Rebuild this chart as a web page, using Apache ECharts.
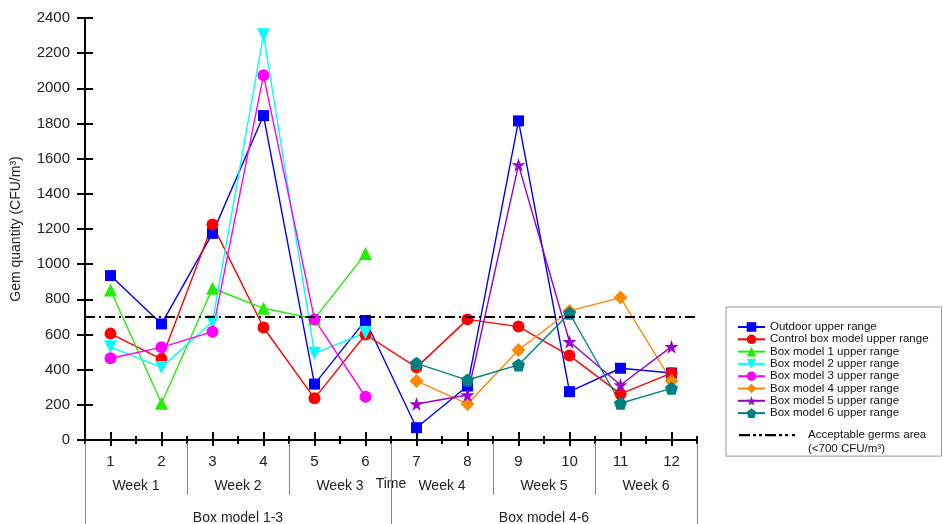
<!DOCTYPE html>
<html>
<head>
<meta charset="utf-8">
<script src="https://cdn.jsdelivr.net/npm/echarts@6/dist/echarts.min.js"></script>
<style>
html,body{margin:0;padding:0;background:#fff;}
#chart{width:943px;height:524px;}
</style>
</head>
<body>
<div id="chart"></div>
<script>
// ---- data ----
const categories = ['1','2','3','4','5','6','7','8','9','10','11','12'];
const weeks = ['Week 1','Week 2','Week 3','Week 4','Week 5','Week 6'];
const groups = ['Box model 1-3','Box model 4-6'];
const yMin = 0, yMax = 2400, yStep = 200;
const threshold = 700;

const outdoor = [935, 660, 1175, 1845, 318, 680, 70, 307, 1815, 275, 408, 381];
const control = [605, 460, 1225, 640, 237, 600, 413, 686, 645, 480, 262, 380];
const box1 = [853, 209, 863, 749, 690, 1060, null, null, null, null, null, null];
const box2 = [530, 413, 673, 2305, 493, 610, null, null, null, null, null, null];
const box3 = [465, 527, 616, 2075, 686, 246, null, null, null, null, null, null];
const box4 = [null, null, null, null, null, null, 336, 205, 512, 734, 810, 337];
const box5 = [null, null, null, null, null, null, 205, 256, 1565, 559, 313, 531];
const box6 = [null, null, null, null, null, null, 436, 341, 427, 721, 209, 294];

const seriesNames = ['Outdoor upper range','Control box model upper range','Box model 1 upper range',
  'Box model 2 upper range','Box model 3 upper range','Box model 4 upper range',
  'Box model 5 upper range','Box model 6 upper range'];
const thresholdName = 'Acceptable germs area';

// ---- styles ----
const STAR = 'path://M50,0 L61,35 L98,35 L68,57 L79,91 L50,70 L21,91 L32,57 L2,35 L39,35 Z';
const PENT = 'path://M50,0 L100,38 L81,100 L19,100 L0,38 Z';
// dash-dot legend icon (bounding box 0..56 x 0..10)
const DASHDOT_ICON = 'path://M0,0 L0,0 Z M56,10 L56,10 Z ' +
  'M0,4 L11,4 L11,6.2 L0,6.2 Z M14,4 L17,4 L17,6.2 L14,6.2 Z M20,4 L23,4 L23,6.2 L20,6.2 Z ' +
  'M26,4 L37,4 L37,6.2 L26,6.2 Z M40,4 L43,4 L43,6.2 L40,6.2 Z M46,4 L49,4 L49,6.2 L46,6.2 Z M53,4 L56,4 L56,6.2 L53,6.2 Z';
const styles = [
  {color:'#0000ff', symbol:'rect', size:11},
  {color:'#ff0000', symbol:'circle', size:12},
  {color:'#22ee00', symbol:'triangle', size:13},
  {color:'#00ffff', symbol:'triangle', size:13, rotate:180},
  {color:'#ff00ff', symbol:'circle', size:12},
  {color:'#ff8800', symbol:'diamond', size:14},
  {color:'#9900cc', symbol:STAR, size:14},
  {color:'#008080', symbol:PENT, size:13}
];
const allData = [outdoor, control, box1, box2, box3, box4, box5, box6];

const series = allData.map((d, i) => ({
  name: seriesNames[i],
  type: 'line',
  data: d,
  xAxisIndex: 0, yAxisIndex: 0,
  symbol: styles[i].symbol,
  symbolSize: styles[i].size,
  symbolRotate: styles[i].rotate || 0,
  showAllSymbol: true,
  itemStyle: {color: styles[i].color},
  lineStyle: {color: styles[i].color, width: 1.4},
  emphasis: {disabled: true},
  z: 3
}));
series.push({
  name: thresholdName,
  type: 'line',
  data: [],
  xAxisIndex: 0, yAxisIndex: 0,
  symbol: 'none',
  itemStyle: {color: '#000'},
  lineStyle: {color: '#000', width: 2, type: [10, 4, 2, 4]},
  markLine: {
    silent: true, symbol: 'none', label: {show: false},
    lineStyle: {color: '#000', width: 2, type: [10, 4, 2, 4]},
    data: [{yAxis: threshold}]
  },
  z: 2
});

const FONT = 'Liberation Sans, Arial, sans-serif';
const catBase = {type: 'category', data: categories, position: 'bottom', boundaryGap: true,
  axisLine: {show: false, onZero: false}, axisLabel: {show: false}, splitLine: {show: false}};

const option = {
  animation: false,
  backgroundColor: '#fff',
  textStyle: {fontFamily: FONT},
  grid: {left: 85, right: 246, top: 18, bottom: 84, containLabel: false, outerBoundsMode: 'none'},
  xAxis: [
    Object.assign({}, catBase, {
      axisLine: {show: true, onZero: false, lineStyle: {color: '#000', width: 2}},
      axisTick: {show: true, alignWithLabel: true, length: 6, lineStyle: {color: '#000', width: 2}},
      axisLabel: {show: true, fontSize: 15, color: '#222', margin: 14, fontFamily: FONT},
      z: 4
    }),
    Object.assign({}, catBase, {
      axisTick: {show: true, alignWithLabel: true, inside: true, length: 8, lineStyle: {color: '#000', width: 2}}
    }),
    Object.assign({}, catBase, {
      axisTick: {show: true, alignWithLabel: false, length: 4, lineStyle: {color: '#000', width: 2}}
    }),
    Object.assign({}, catBase, {
      axisTick: {show: true, alignWithLabel: false, inside: true, length: 4, lineStyle: {color: '#000', width: 2}}
    }),
    {
      type: 'category', data: weeks, position: 'bottom', offset: 3, boundaryGap: true,
      axisLine: {show: false, onZero: false},
      axisTick: {show: true, length: 52, lineStyle: {color: '#888', width: 1}},
      axisLabel: {show: true, fontSize: 14, color: '#222', margin: 36, fontFamily: FONT},
      splitLine: {show: false}, z: 1
    },
    {
      type: 'category', data: groups, position: 'bottom', offset: 3, boundaryGap: true,
      axisLine: {show: false, onZero: false},
      axisTick: {show: true, length: 90, lineStyle: {color: '#888', width: 1}},
      axisLabel: {show: true, fontSize: 14, color: '#222', margin: 68, fontFamily: FONT},
      name: 'Time', nameLocation: 'middle', nameGap: 33, nameMoveOverlap: false,
      nameTextStyle: {fontSize: 14, color: '#222', backgroundColor: '#fff', padding: [1, 3], fontFamily: FONT},
      splitLine: {show: false}, z: 2
    }
  ],
  yAxis: [
    {
      type: 'value', min: yMin, max: yMax, interval: yStep, position: 'left',
      axisLine: {show: true, onZero: false, lineStyle: {color: '#000', width: 2}},
      axisTick: {show: true, length: 8, lineStyle: {color: '#000', width: 2}},
      axisLabel: {fontSize: 15, color: '#222', margin: 15, fontFamily: FONT, formatter: v => String(v)},
      splitLine: {show: false},
      name: 'Gem quantity (CFU/m³)', nameLocation: 'middle', nameRotate: 90, nameGap: 62,
      nameMoveOverlap: false,
      nameTextStyle: {fontSize: 14, color: '#222', fontFamily: FONT}
    },
    {
      type: 'value', min: yMin, max: yMax, interval: yStep, position: 'left',
      axisLine: {show: false, onZero: false},
      axisTick: {show: true, inside: true, length: 8, lineStyle: {color: '#000', width: 2}},
      axisLabel: {show: false}, splitLine: {show: false}
    }
  ],
  legend: [
    {
      data: seriesNames, orient: 'vertical', left: 726, top: 307,
      padding: [14, 13, 37, 11], itemGap: 0.3, itemWidth: 27, itemHeight: 12,
      borderColor: '#999', borderWidth: 1, selectedMode: false,
      textStyle: {fontSize: 11.5, color: '#111', lineHeight: 12, fontFamily: FONT}
    },
    {
      data: [{name: thresholdName, icon: DASHDOT_ICON, itemStyle: {color: '#000'}}],
      orient: 'vertical', left: 739, top: 414,
      padding: 0, itemWidth: 56, itemHeight: 10, selectedMode: false,
      formatter: () => '\nAcceptable germs area\n(<700 CFU/m³)',
      textStyle: {fontSize: 11.5, color: '#111', lineHeight: 14, padding: [0, 0, 0, 8], fontFamily: FONT}
    }
  ],
  series: series
};

const chart = echarts.init(document.getElementById('chart'), null, {renderer: 'canvas'});
chart.setOption(option);
</script>
</body>
</html>
